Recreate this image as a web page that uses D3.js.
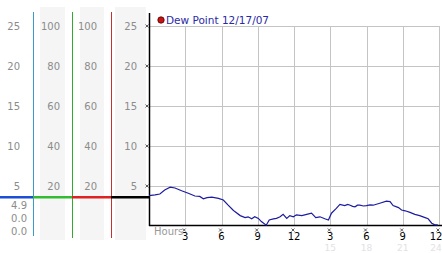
<!DOCTYPE html>
<html>
<head>
<meta charset="utf-8">
<script src="https://cdn.jsdelivr.net/npm/d3@7"></script>
<style>
  body { margin: 0; background: #ffffff; }
  text { font-family: "DejaVu Sans", sans-serif; }
</style>
</head>
<body>
<div id="chart"></div>
<script>
// data
const hours = [0, 0.5, 0.9, 1.3, 1.75, 2.15, 2.7, 3.25, 3.8, 4.2, 4.5, 4.8, 5.2, 5.75, 6.15, 6.55, 6.95, 7.1, 7.55, 7.95,
    8.2, 8.5, 8.75, 9.05, 9.3, 9.7, 9.95, 10.3, 10.55, 10.85, 11.1, 11.4, 11.65, 11.95, 12.2, 12.65, 13.05, 13.45, 13.8,
    14.15, 14.55, 14.85, 15.1, 15.5, 15.8, 16.2, 16.45, 16.65, 16.85, 17.05, 17.25, 17.45, 17.75, 18.0, 18.3, 18.55,
    19.1, 19.65, 19.95, 20.2, 20.65, 20.9, 21.2, 21.6, 22.0, 22.4, 22.85, 23.1, 23.4, 23.65, 23.9];
const dew_point = [3.8, 3.9, 4.0, 4.5, 4.85, 4.75, 4.4, 4.1, 3.75, 3.7, 3.4, 3.55, 3.6, 3.45, 3.25, 2.6, 2.0, 1.8, 1.3, 1.05,
    1.15, 0.9, 1.15, 0.95, 0.55, 0.1, 0.75, 0.9, 0.95, 1.15, 1.45, 0.95, 1.3, 1.15, 1.4, 1.3, 1.45, 1.6, 1.05,
    1.15, 0.9, 0.75, 1.6, 2.2, 2.7, 2.55, 2.7, 2.6, 2.45, 2.4, 2.6, 2.6, 2.5, 2.55, 2.65, 2.6,
    2.85, 3.1, 3.05, 2.55, 2.3, 2.0, 1.9, 1.7, 1.45, 1.3, 1.05, 0.9, 0.35, 0.15, 0.15];

const temp_ticks = [25, 20, 15, 10, 5];
const hum_ticks = [100, 80, 60, 40, 20];
const hour_ticks = [3, 6, 9, 12, 15, 18, 21, 24];
const hour_labels = ["3", "6", "9", "12", "3", "6", "9", "12"];
const faint_ticks = [15, 18, 21, 24];
const current_dew = 3.6;
const readings = ["4.9", "0.0", "0.0"];
const legend_label = "Dew Point 12/17/07";

// layout
const width = 442, height = 253;

const x = d3.scaleLinear().domain([0, 24]).range([149, 439]);
const y = d3.scaleLinear().domain([0, 25]).range([226, 26]);
const y_hum = d3.scaleLinear().domain([0, 100]).range([226, 26]);

const svg = d3.select("#chart")
    .append("svg")
    .attr("width", width)
    .attr("height", height);

// gray bands of the side panels
const bands = [[40, 25], [80, 24], [115, 31]];
svg.selectAll(".band")
    .data(bands)
    .enter().append("rect")
    .attr("class", "band")
    .attr("x", d => d[0])
    .attr("y", 7)
    .attr("width", d => d[1])
    .attr("height", 233)
    .attr("fill", "#f5f5f5");

// side panel labels
const columns = [
    {ticks: temp_ticks, scale: y, right: 20},
    {ticks: hum_ticks, scale: y_hum, right: 60},
    {ticks: hum_ticks, scale: y_hum, right: 97},
    {ticks: temp_ticks, scale: y, right: 137}
];
columns.forEach(function(col) {
    svg.append("g").selectAll("text")
        .data(col.ticks)
        .enter().append("text")
        .attr("x", col.right)
        .attr("y", d => col.scale(d))
        .attr("dy", "0.36em")
        .attr("text-anchor", "end")
        .attr("font-size", "10px")
        .attr("fill", "#8c8c8c")
        .text(d => d);
});

// current readings
svg.append("g").selectAll("text")
    .data(readings)
    .enter().append("text")
    .attr("x", 27)
    .attr("y", (d, i) => 205 + i * 13.4)
    .attr("dy", "0.36em")
    .attr("text-anchor", "end")
    .attr("font-size", "10px")
    .attr("fill", "#8c8c8c")
    .text(d => d);

// panel divider lines
const dividers = [
    {x: 33, bottom: 236, color: "#3a9ad0"},
    {x: 72, bottom: 238, color: "#33a833"},
    {x: 111, bottom: 238, color: "#c83030"}
];
svg.selectAll(".divider")
    .data(dividers)
    .enter().append("line")
    .attr("x1", d => d.x + 0.5).attr("x2", d => d.x + 0.5)
    .attr("y1", 12).attr("y2", d => d.bottom)
    .attr("stroke", d => d.color)
    .attr("stroke-width", 1);

// current value bar across panels
const segments = [[0, 33, "#1d4fd6"], [33, 72, "#33bb33"], [72, 111, "#dd2222"], [111, 149, "#000000"]];
svg.selectAll(".current")
    .data(segments)
    .enter().append("line")
    .attr("x1", d => d[0]).attr("x2", d => d[1])
    .attr("y1", y(current_dew)).attr("y2", y(current_dew))
    .attr("stroke", d => d[2])
    .attr("stroke-width", 2.5);

// grid
svg.append("g").selectAll("line")
    .data(temp_ticks)
    .enter().append("line")
    .attr("x1", x(0)).attr("x2", x(24))
    .attr("y1", d => Math.round(y(d)) + 0.5).attr("y2", d => Math.round(y(d)) + 0.5)
    .attr("stroke", "#c4c4c4");
svg.append("g").selectAll("line")
    .data(hour_ticks)
    .enter().append("line")
    .attr("x1", d => Math.round(x(d)) + 0.5).attr("x2", d => Math.round(x(d)) + 0.5)
    .attr("y1", y(25)).attr("y2", y(0))
    .attr("stroke", "#c4c4c4");

// axes
svg.append("line")
    .attr("x1", 149.5).attr("x2", 149.5)
    .attr("y1", 13).attr("y2", 226)
    .attr("stroke", "#000").attr("stroke-width", 1.5);
svg.append("line")
    .attr("x1", 149).attr("x2", width)
    .attr("y1", 225.5).attr("y2", 225.5)
    .attr("stroke", "#000").attr("stroke-width", 1.5);

// little cross tick marks
const cross = "M-1.5,-1.5L1.5,1.5M-1.5,1.5L1.5,-1.5";
svg.append("g").selectAll("path")
    .data(temp_ticks)
    .enter().append("path")
    .attr("transform", d => "translate(147," + y(d) + ")")
    .attr("d", cross)
    .attr("stroke", "#333").attr("stroke-width", 0.8);
svg.append("g").selectAll("path")
    .data(hour_ticks)
    .enter().append("path")
    .attr("transform", d => "translate(" + (x(d) - 1) + ",230)")
    .attr("d", cross)
    .attr("stroke", "#333").attr("stroke-width", 0.8);

// x labels
svg.append("text")
    .attr("x", 154).attr("y", 235)
    .attr("font-size", "10px")
    .attr("fill", "#9a9a9a")
    .text("Hours");
svg.append("g").selectAll("text")
    .data(hour_ticks)
    .enter().append("text")
    .attr("x", (d, i) => x(d) - (i == hour_ticks.length - 1 ? 3 : 0))
    .attr("y", 239.5)
    .attr("text-anchor", "middle")
    .attr("font-size", "10px")
    .attr("fill", "#000")
    .text((d, i) => hour_labels[i]);
svg.append("g").selectAll("text")
    .data(faint_ticks)
    .enter().append("text")
    .attr("x", (d, i) => x(d) - (i == faint_ticks.length - 1 ? 3 : 0))
    .attr("y", 250.5)
    .attr("text-anchor", "middle")
    .attr("font-size", "9px")
    .attr("fill", "#e2e2e2")
    .text(d => d);

// series
const line = d3.line()
    .x((d, i) => x(hours[i]))
    .y(d => y(d));
svg.append("path")
    .datum(dew_point)
    .attr("d", line)
    .attr("fill", "none")
    .attr("stroke", "#1c1ca0")
    .attr("stroke-width", 1.2);

// legend
svg.append("circle")
    .attr("cx", 161).attr("cy", 20).attr("r", 3.2)
    .attr("fill", "#c41414").attr("stroke", "#500000").attr("stroke-width", 0.8);
svg.append("text")
    .attr("x", 166).attr("y", 24)
    .attr("font-size", "10.5px")
    .attr("fill", "#2a2aa8")
    .text(legend_label);
</script>
</body>
</html>
